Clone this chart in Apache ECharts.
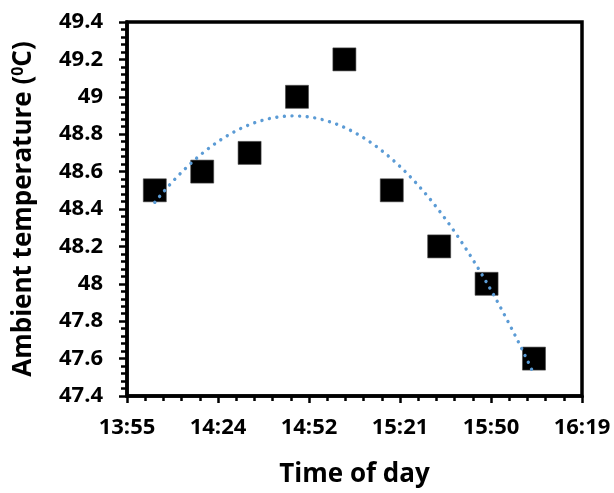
<!DOCTYPE html>
<html>
<head>
<meta charset="utf-8">
<script src="https://cdn.jsdelivr.net/npm/echarts@6/dist/echarts.min.js"></script>
<style>html,body{margin:0;padding:0;background:#fff}#c{width:614px;height:493px}</style>
</head>
<body>
<div id="c"></div>
<script>
// Data
var times = ['14:04','14:19','14:34','14:49','15:04','15:19','15:34','15:49','16:04'];
var temps = [48.5, 48.6, 48.7, 49.0, 49.2, 48.5, 48.2, 48.0, 47.6];
var xTickLabels = ['13:55','14:24','14:52','15:21','15:50','16:19'];
var yTickLabels = ['47.4','47.6','47.8','48','48.2','48.4','48.6','48.8','49','49.2','49.4'];

// x unit: 1/50 of a day (28.8 minutes), as on the Excel time axis
var UNIT = 28.8;
function toUnit(t){ var p = t.split(':'); return (parseInt(p[0])*60 + parseInt(p[1])) / UNIT; }
var xs = times.map(toUnit);
var pts = xs.map(function(x,i){ return [x, temps[i]]; });

// Polynomial (order 2) trendline fitted to the data by least squares
function quadFit(x, y){
  var n = x.length, m = x.reduce(function(a,b){return a+b;},0)/n;
  var S = [0,0,0,0,0], T = [0,0,0];
  for (var i=0;i<n;i++){ var u = x[i]-m, p=1;
    for (var k=0;k<5;k++){ S[k]+=p; if(k<3) T[k]+=p*y[i]; p*=u; } }
  var A = [[S[0],S[1],S[2],T[0]],[S[1],S[2],S[3],T[1]],[S[2],S[3],S[4],T[2]]];
  for (var c=0;c<3;c++){ for (var r=c+1;r<3;r++){ var f=A[r][c]/A[c][c]; for (var j=c;j<4;j++) A[r][j]-=f*A[c][j]; } }
  var b=[0,0,0]; for (var r2=2;r2>=0;r2--){ var s=A[r2][3]; for (var j2=r2+1;j2<3;j2++) s-=A[r2][j2]*b[j2]; b[r2]=s/A[r2][r2]; }
  return function(v){ var u=v-m; return b[0]+b[1]*u+b[2]*u*u; };
}
var fit = quadFit(xs, temps);
var trend = [];
var x0 = xs[0], x1 = xs[xs.length-1];
for (var i=0;i<=80;i++){ var xv = x0 + (x1-x0)*i/80; trend.push([xv, fit(xv)]); }

var chart = echarts.init(document.getElementById('c'), null, {renderer:'canvas'});
var FONT = 'Open Sans';
chart.setOption({
  animation: false,
  grid: { left: 127, right: 32, top: 22, bottom: 90, show: true, borderColor: '#000', borderWidth: 3.5, backgroundColor: 'transparent' },
  xAxis: {
    type: 'value', min: 29, max: 34, interval: 1,
    name: 'Time of day', nameLocation: 'middle', nameGap: 66,
    nameTextStyle: { fontFamily: FONT, fontWeight: 700, fontSize: 26, color: '#000' },
    axisLine: { show: true, onZero: false, lineStyle: { color: '#000', width: 3.5 } },
    axisTick: { show: true, inside: false, length: 7, lineStyle: { color: '#000', width: 2.5 } },
    minorTick: { show: true, splitNumber: 5, length: 5, lineStyle: { color: '#000', width: 2.5 } },
    splitLine: { show: false },
    axisLabel: { margin: 21, fontFamily: FONT, fontWeight: 700, fontSize: 22, color: '#000',
      formatter: function(v){ return xTickLabels[Math.round(v-29)]; } }
  },
  yAxis: {
    type: 'value', min: 47.4, max: 49.4, interval: 0.2,
    name: '{a|Ambient temperature (}{s|0}{a|C)}', nameLocation: 'middle', nameGap: 90, nameRotate: 90,
    nameTextStyle: { rich: {
      a: { fontFamily: FONT, fontWeight: 700, fontSize: 26, color: '#000' },
      s: { fontFamily: FONT, fontWeight: 700, fontSize: 16, color: '#000', verticalAlign: 'top', padding: [0,0,11,0] } } },
    axisLine: { show: true, lineStyle: { color: '#000', width: 3.5 } },
    axisTick: { show: true, inside: false, length: 8, lineStyle: { color: '#000', width: 2.5 } },
    minorTick: { show: true, splitNumber: 5, length: 6, lineStyle: { color: '#000', width: 2.5 } },
    splitLine: { show: false },
    axisLabel: { margin: 24, fontFamily: FONT, fontWeight: 700, fontSize: 22, color: '#000',
      formatter: function(v){ return yTickLabels[Math.round((v-47.4)/0.2)]; } }
  },
  series: [
    { type: 'line', data: trend, showSymbol: false, smooth: false, z: 3,
      lineStyle: { color: '#5B9BD5', width: 3.4, type: [0.01, 7.6], cap: 'round' } },
    { type: 'scatter', data: pts, symbol: 'rect', symbolSize: 23, z: 2,
      itemStyle: { color: '#000', opacity: 1, borderColor: '#444', borderWidth: 0.6 } }
  ]
});
</script>
</body>
</html>
